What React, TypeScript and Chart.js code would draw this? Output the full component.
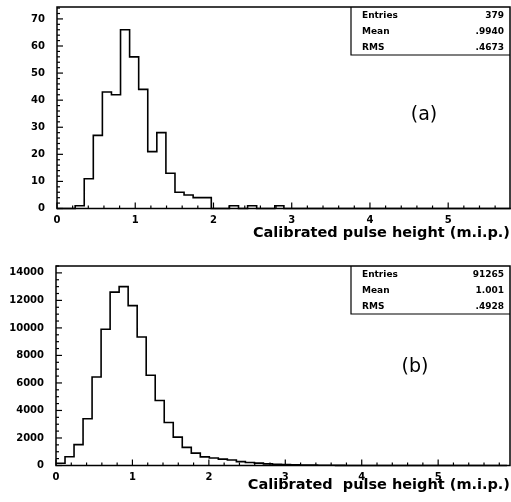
import React, { useEffect, useRef } from 'react';
import { Chart, registerables } from 'chart.js';

Chart.register(...registerables);

// ---- data ----
const binWidthA = 0.116;
const binWidthB = 0.118;
const countsA = [0, 0, 1, 11, 27, 43, 42, 66, 56, 44, 21, 28, 13, 6, 5, 4, 4, 0, 0, 1, 0, 1, 0, 0, 1, 0, 0, 0, 0, 0, 0, 0, 0, 0, 0, 0, 0, 0, 0, 0, 0, 0, 0, 0, 0, 0, 0, 0, 0, 0];
const countsB = [160, 640, 1520, 3400, 6430, 9900, 12600, 13000, 11620, 9340, 6560, 4720, 3120, 2060, 1320, 900, 630, 540, 460, 400, 280, 220, 170, 120, 90, 70, 50, 40, 30, 20, 15, 10, 5, 0, 0, 0, 0, 0, 0, 0, 0, 0, 0, 0, 0, 0, 0, 0, 0, 0];
const xTickValues = [0, 1, 2, 3, 4, 5];
const yTicksA = [0, 10, 20, 30, 40, 50, 60, 70];
const yTicksB = [0, 2000, 4000, 6000, 8000, 10000, 12000, 14000];
const statLabels = ['Entries', 'Mean', 'RMS'];
const statsA = ['379', '.9940', '.4673'];
const statsB = ['91265', '1.001', '.4928'];
const panelLabelA = '(a)';
const panelLabelB = '(b)';
const titleA = 'Calibrated pulse height (m.i.p.)';
const titleB = 'Calibrated  pulse height (m.i.p.)';

const FONT = '"DejaVu Sans", sans-serif';

const decor = {
  id: 'decor',
  afterDraw(chart: any, _args: any, o: any) {
    const { ctx, chartArea: a, scales } = chart;
    const x = scales.x, y = scales.y;
    ctx.save();
    ctx.strokeStyle = '#000';
    ctx.fillStyle = '#000';
    ctx.lineWidth = 1.5;
    ctx.strokeRect(a.left, a.top, a.right - a.left, a.bottom - a.top);
    ctx.lineWidth = 1.2;
    // x ticks (inward)
    for (let i = 0; i * o.xMinor <= x.max + 1e-9; i++) {
      const px = x.getPixelForValue(i * o.xMinor);
      const major = i % 5 === 0;
      ctx.beginPath();
      ctx.moveTo(px, a.bottom);
      ctx.lineTo(px, a.bottom - (major ? 6 : 3));
      ctx.stroke();
    }
    // y ticks (inward)
    const per = Math.round(o.yMajor / o.yMinor);
    for (let i = 0; i * o.yMinor <= y.max + 1e-9; i++) {
      const py = y.getPixelForValue(i * o.yMinor);
      const major = i % per === 0;
      ctx.beginPath();
      ctx.moveTo(a.left, py);
      ctx.lineTo(a.left + (major ? 6 : 3), py);
      ctx.stroke();
    }
    // stats box
    const bl = a.right - 159;
    const bb = a.top + 48;
    ctx.lineWidth = 1.2;
    ctx.beginPath();
    ctx.moveTo(bl, a.top);
    ctx.lineTo(bl, bb);
    ctx.lineTo(a.right, bb);
    ctx.stroke();
    ctx.font = 'bold 9px ' + FONT;
    ctx.textBaseline = 'middle';
    statLabels.forEach((lab, i) => {
      const ty = a.top + 9 + i * 16;
      ctx.textAlign = 'left';
      ctx.fillText(lab, bl + 11, ty);
      ctx.textAlign = 'right';
      ctx.fillText(o.stats[i], a.right - 6, ty);
    });
    // panel label
    ctx.font = '19px ' + FONT;
    ctx.textAlign = 'center';
    ctx.textBaseline = 'middle';
    ctx.fillText(o.label, o.labelX, o.labelY);
    ctx.restore();
  },
};

function makeConfig(p: any) {
  const pts = p.counts.map((c: number, i: number) => ({ x: i * p.bw, y: c }));
  pts.push({ x: p.counts.length * p.bw, y: 0 });
  return {
    type: 'line',
    data: {
      datasets: [
        {
          data: pts,
          stepped: true,
          borderColor: '#000',
          borderWidth: 1.6,
          pointRadius: 0,
          fill: false,
          clip: false,
        },
      ],
    },
    plugins: [decor],
    options: {
      animation: false,
      responsive: false,
      devicePixelRatio: 1,
      layout: { padding: { top: p.padTop, right: 1, left: 0, bottom: 0 } },
      plugins: {
        legend: { display: false },
        tooltip: { enabled: false },
        decor: {
          xMinor: 0.2,
          yMinor: p.yMinor,
          yMajor: p.yMajor,
          stats: p.stats,
          label: p.label,
          labelX: p.labelX,
          labelY: p.labelY,
        },
      },
      scales: {
        x: {
          type: 'linear',
          min: 0,
          max: p.xMax,
          grid: { display: false, drawTicks: false },
          border: { display: false },
          ticks: {
            padding: p.xTickPad,
            color: '#000',
            maxRotation: 0,
            autoSkip: false,
            callback: (v: any) => String(v),
            font: { family: FONT, size: 10, weight: 'bold' },
          },
          afterBuildTicks: (s: any) => {
            s.ticks = xTickValues.map((v) => ({ value: v }));
          },
          title: {
            display: true,
            text: p.title,
            align: 'end',
            color: '#000',
            padding: { top: 0, bottom: 8 },
            font: { family: FONT, size: 14.5, weight: 'bold' },
          },
          afterFit: (s: any) => {
            s.height = p.xAxisH;
            s.paddingLeft = 0;
            s.paddingRight = 0;
            s.paddingTop = 0;
            s.paddingBottom = 0;
          },
        },
        y: {
          type: 'linear',
          min: 0,
          max: p.yMax,
          grid: { display: false, drawTicks: false },
          border: { display: false },
          ticks: {
            padding: 12,
            color: '#000',
            autoSkip: false,
            callback: (v: any) => String(v),
            font: { family: FONT, size: 10, weight: 'bold' },
          },
          afterBuildTicks: (s: any) => {
            s.ticks = p.yTicks.map((v: number) => ({ value: v }));
          },
          afterFit: (s: any) => {
            s.width = p.yAxisW;
            s.paddingLeft = 0;
            s.paddingRight = 0;
            s.paddingTop = 0;
            s.paddingBottom = 0;
          },
        },
      },
    },
  };
}

function Panel({ params, height }: { params: any; height: number }) {
  const ref = useRef<HTMLCanvasElement>(null);
  useEffect(() => {
    const chart = new Chart(ref.current as any, makeConfig(params) as any);
    return () => chart.destroy();
  }, []);
  return <canvas ref={ref} width={511} height={height} style={{ display: 'block', width: 511, height }} />;
}

const paramsA = {
  counts: countsA,
  bw: binWidthA,
  xMax: 5.79,
  yMax: 74.4,
  yTicks: yTicksA,
  yMajor: 10,
  yMinor: 2,
  stats: statsA,
  label: panelLabelA,
  labelX: 424,
  labelY: 115,
  title: titleA,
  padTop: 7,
  xAxisH: 41.5,
  xTickPad: 6,
  yAxisW: 57,
};

const paramsB = {
  counts: countsB,
  bw: binWidthB,
  xMax: 5.94,
  yMax: 14500,
  yTicks: yTicksB,
  yMajor: 2000,
  yMinor: 500,
  stats: statsB,
  label: panelLabelB,
  labelX: 415,
  labelY: 117,
  title: titleB,
  padTop: 16,
  xAxisH: 36.5,
  xTickPad: 6,
  yAxisW: 56,
};

export default function App() {
  return (
    <div style={{ position: 'absolute', left: 0, top: 0, width: 511, height: 502, background: '#fff' }}>
      <Panel params={paramsA} height={250} />
      <Panel params={paramsB} height={252} />
    </div>
  );
}
